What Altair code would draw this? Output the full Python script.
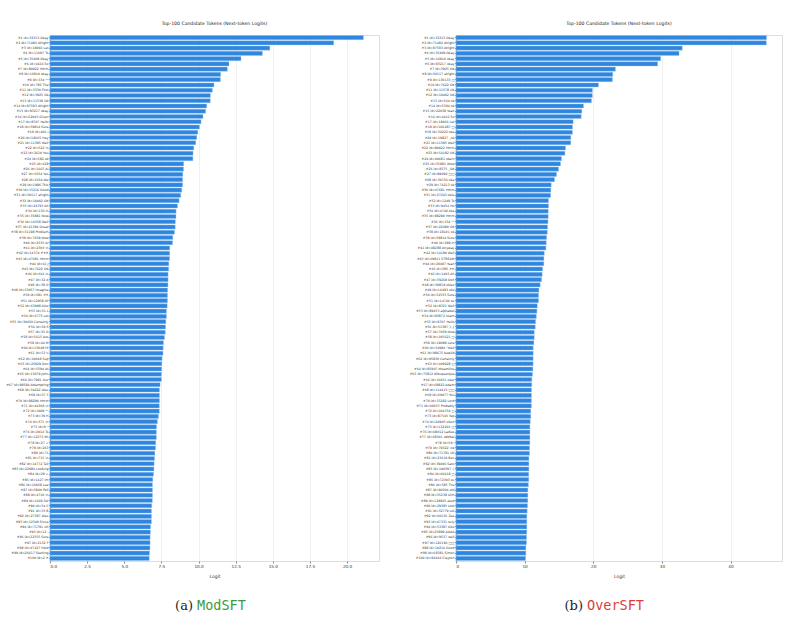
import altair as alt
import pandas as pd

left_labels = [
    "#1 id=32313 Okay", "#2 id=71486 Alright", "#3 id=18066 Let", "#4 id=11697 To", "#5 id=35409 Okay",
    "#6 id=4416 So", "#7 id=80022 Hmm", "#8 id=16910 okay", "#9 id=334 **", "#10 id=785 The",
    "#11 id=3330 First", "#12 id=3925 Ok", "#13 id=11538 Ok", "#14 id=97593 Alright", "#15 id=93217 okay",
    "#16 id=22043 Given", "#17 id=8707 Hello", "#18 id=39814 Sure", "#19 id=401 I", "#20 id=18665 Hey",
    "#21 id=11395 Well", "#22 id=522 \\n", "#23 id=2610 You", "#24 id=582 ok", "#25 id=629 ",
    "#26 id=1665 AI", "#27 id=5654 Yes", "#28 id=1654 We", "#29 id=1986 This", "#30 id=15216 Good",
    "#31 id=50117 alright", "#32 id=10402 OK", "#33 id=24793 Ah", "#34 id=136 In", "#35 id=35881 Now",
    "#36 id=14358 Well", "#37 id=21396 Great", "#38 id=31198 Problem", "#39 id=7039 Now", "#40 id=2535 AI",
    "#41 id=2303 \\n", "#42 id=14374 ###", "#43 id=47681 Hmm", "#44 id=61 J", "#45 id=7622 OK",
    "#46 id=641 In", "#47 id=32 A", "#48 id=38 G", "#49 id=53057 Imagine", "#50 id=581 ##",
    "#51 id=12958 Of", "#52 id=63098 Also", "#53 id=51 L", "#54 id=6775 Let", "#55 id=30450 Certainly",
    "#56 id=50 S", "#57 id=35 D", "#58 id=5615 Ass", "#59 id=44 M", "#60 id=13048 Hi",
    "#61 id=53 V", "#62 id=10048 Sup", "#63 id=25829 Don", "#64 id=5594 At", "#65 id=13079 John",
    "#66 id=7981 Our", "#67 id=98584 Attempting", "#68 id=34222 Alex", "#69 id=37 F", "#70 id=88290 Hmm",
    "#71 id=44368 \\n", "#72 id=1009 **", "#73 id=39 H", "#74 id=371 \\n", "#75 id=9 *",
    "#76 id=2014 To", "#77 id=12275 Mr", "#78 id=27 <", "#79 id=263 ", "#80 id=71 ",
    "#81 id=715 \\n", "#82 id=14772 Tell", "#83 id=22084 Looking", "#84 id=29 >", "#85 id=1427 Im",
    "#86 id=16058 Lee", "#87 id=5800 Pell", "#88 id=4710 \\n", "#89 id=1669 Sol", "#90 id=54 C",
    "#91 id=33 B", "#92 id=27387 Alex", "#93 id=12349 Since", "#94 id=71791 Uh", "#95 id=12 -",
    "#96 id=22555 Sure", "#97 id=2132 F", "#98 id=47427 Hold", "#99 id=26617 Starting", "#100 id=2 #",
]
left_values = [
    21.1, 19.1, 14.8, 14.3, 12.86, 12.05, 11.94, 11.49, 11.47, 11.04,
    10.93, 10.8, 10.79, 10.55, 10.48, 10.3, 10.17, 10.06, 9.95, 9.88,
    9.81, 9.68, 9.63, 9.62, 9.0, 8.99, 8.94, 8.93, 8.93, 8.87,
    8.8, 8.69, 8.58, 8.49, 8.48, 8.44, 8.43, 8.38, 8.27, 8.25,
    8.06, 8.06, 8.05, 8.0, 7.99, 7.95, 7.95, 7.94, 7.92, 7.91,
    7.91, 7.89, 7.84, 7.84, 7.8, 7.78, 7.76, 7.71, 7.64, 7.62,
    7.61, 7.55, 7.53, 7.52, 7.5, 7.5, 7.41, 7.37, 7.37, 7.37,
    7.36, 7.36, 7.3, 7.23, 7.17, 7.16, 7.16, 7.12, 7.1, 7.06,
    7.04, 7.01, 7.0, 6.97, 6.92, 6.9, 6.9, 6.9, 6.89, 6.85,
    6.83, 6.83, 6.83, 6.77, 6.76, 6.74, 6.74, 6.73, 6.7, 6.68,
]

right_labels = [
    "#1 id=32313 Okay", "#2 id=71486 Alright", "#3 id=97593 Alright", "#4 id=35409 Okay", "#5 id=16910 okay",
    "#6 id=93217 okay", "#7 id=3925 OK", "#8 id=50117 alright", "#9 id=130133 □", "#10 id=7622 OK",
    "#11 id=11578 Ok", "#12 id=10402 OK", "#13 id=564 ok", "#14 id=5394 ok", "#15 id=22038 Yeah",
    "#16 id=4416 So", "#17 id=18066 Let", "#18 id=106287 □", "#19 id=34222 oke", "#20 id=19827 _ok",
    "#21 id=11395 Well", "#22 id=80022 Hmm", "#23 id=54192 OK", "#24 id=40681 okein", "#25 id=35881 Wow",
    "#26 id=8375 _OK", "#27 id=99092 □□", "#28 id=30756 oke", "#29 id=74213 ok", "#30 id=47681 Hmm",
    "#31 id=27243 okie", "#32 id=1249 To", "#33 id=9454 Ho", "#34 id=4740 oke", "#35 id=88290 Hmm",
    "#36 id=334 **", "#37 id=22480 OK", "#38 id=18101 ok", "#39 id=39814 Sure", "#40 id=299 In",
    "#41 id=48288 Anyway", "#42 id=14190 Well", "#43 id=69811 STREAM", "#44 id=20407 Yeah", "#45 id=585 ##",
    "#46 id=1403 Ah", "#47 id=39268 Ooh", "#48 id=30818 okies", "#49 id=16493 okz", "#50 id=32555 Sure",
    "#51 id=14746 ox", "#52 id=8321 Well", "#53 id=89453 alphabet", "#54 id=93872 Islam", "#55 id=9707 Hello",
    "#56 id=51387 ):,{", "#57 id=7039 Now", "#58 id=105621 □", "#59 id=19098 sure", "#60 id=54984 \"Well",
    "#61 id=98675 bewild", "#62 id=95830 Certainly", "#63 id=109928 □", "#64 id=85907 dreamline", "#65 id=75812 Albuquerque",
    "#66 id=10451 oker", "#67 id=68822 Adam", "#68 id=114415 □□", "#69 id=20077 You", "#70 id=33282 Lord",
    "#71 id=60653 Probably", "#72 id=104334 □", "#73 id=87545 Yep", "#74 id=24905 ofect", "#75 id=132201 □",
    "#76 id=68012 Ladies", "#77 id=68301 oddbal", "#78 id=59 \\", "#79 id=79322 :ok", "#80 id=71791 Uh",
    "#81 id=23619 Ben", "#82 id=39406 Sato", "#83 id=100397 :)", "#84 id=60618 □", "#85 id=72303 ox",
    "#86 id=585 The", "#87 id=90304 old", "#88 id=35238 slim", "#89 id=128825 ated", "#90 id=29385 solo",
    "#91 id=32779 ust", "#92 id=60136 Zee", "#93 id=47331 oxly", "#94 id=53387 Ooo", "#95 id=25899 AAAA",
    "#96 id=9537 well", "#97 id=126196 □□", "#98 id=10216 Good", "#99 id=68381 Simon", "#100 id=82444 Clayton",
]
right_values = [
    45.24, 45.22, 32.97, 32.5, 29.82, 29.38, 23.23, 22.84, 22.79, 20.76,
    19.88, 19.87, 19.74, 18.58, 18.33, 18.24, 17.07, 16.98, 16.97, 16.73,
    16.72, 15.96, 15.87, 15.37, 15.23, 14.94, 14.65, 14.35, 13.87, 13.82,
    13.78, 13.48, 13.48, 13.44, 13.44, 13.4, 13.35, 13.3, 13.2, 13.15,
    13.1, 12.86, 12.81, 12.8, 12.61, 12.56, 12.47, 12.27, 12.08, 12.03,
    12.03, 11.84, 11.79, 11.7, 11.6, 11.55, 11.4, 11.4, 11.35, 11.25,
    11.25, 11.24, 11.24, 11.2, 11.15, 11.05, 11.04, 11.0, 11.0, 10.99,
    10.99, 10.89, 10.89, 10.82, 10.77, 10.77, 10.77, 10.76, 10.72, 10.72,
    10.62, 10.62, 10.62, 10.6, 10.6, 10.55, 10.47, 10.47, 10.46, 10.42,
    10.37, 10.32, 10.32, 10.32, 10.31, 10.27, 10.27, 10.18, 10.18, 10.13,
]

title_text = "Top-100 Candidate Tokens (Next-token Logits)"
left_ticks = [0, 2.5, 5, 7.5, 10, 12.5, 15, 17.5, 20]
right_ticks = [0, 10, 20, 30, 40]

BAR = "#2E86DE"
FONT = "DejaVu Sans"
H = 526


def panel(labels, values, xmax, width, ticks, fmt, cap_a, cap_b, cap_color, cap_x):
    df = pd.DataFrame({"token": labels, "logit": values})
    bars = alt.Chart(df).mark_bar(color=BAR, stroke="#9cc6f0", strokeWidth=0.4).encode(
        x=alt.X("logit:Q",
                scale=alt.Scale(domain=[0, xmax], nice=False, zero=True),
                axis=alt.Axis(title="Logit", values=ticks, format=fmt, grid=True,
                              gridColor="#ececec", gridWidth=0.8, domain=False,
                              tickSize=2, tickColor="#888", labelFontSize=4.2,
                              labelPadding=1.5, titleFontSize=4.5, titlePadding=5,
                              titleFontWeight="normal", labelFont=FONT, titleFont=FONT,
                              labelColor="#333", titleColor="#333")),
        y=alt.Y("token:N", sort=labels,
                scale=alt.Scale(paddingInner=0.22, paddingOuter=0.1),
                axis=alt.Axis(title=None, labelFontSize=3.2, labelFont=FONT,
                              labelColor="#333", tickSize=1.5, tickColor="#888",
                              labelPadding=0.5, domainColor="#aaaaaa", domainWidth=1.6,
                              minExtent=45, maxExtent=45, labelLimit=60)),
    )
    cap = pd.DataFrame({"a": [cap_a], "b": [cap_b]})
    ta = alt.Chart(cap).mark_text(align="right", baseline="middle", font="DejaVu Serif",
                                  fontSize=13, color="#222").encode(
        text="a:N", x=alt.value(cap_x - 3), y=alt.value(H + 45))
    tb = alt.Chart(cap).mark_text(align="left", baseline="middle", font="DejaVu Sans Mono",
                                  fontSize=13.5, color=cap_color).encode(
        text="b:N", x=alt.value(cap_x + 1), y=alt.value(H + 45))
    return alt.layer(bars, ta, tb).properties(
        width=width, height=H,
        title=alt.TitleParams(title_text, fontSize=4.6, font=FONT, fontWeight="normal",
                              color="#222", offset=9, anchor="middle"),
    )


left = panel(left_labels, left_values, 22.15, 329, left_ticks, ".1f",
             "(a)", "ModSFT", "#3b9b3b", 146)
right = panel(right_labels, right_values, 47.5, 326, right_ticks, "d",
              "(b)", "OverSFT", "#d9403a", 130)

chart = alt.hconcat(left, right, spacing=28).properties(
    padding={"left": 4, "top": 20, "right": 0, "bottom": 0}
).configure_view(stroke=None).configure(background="white")

chart.save("out.html", embed_options={"renderer": "svg", "actions": False})
